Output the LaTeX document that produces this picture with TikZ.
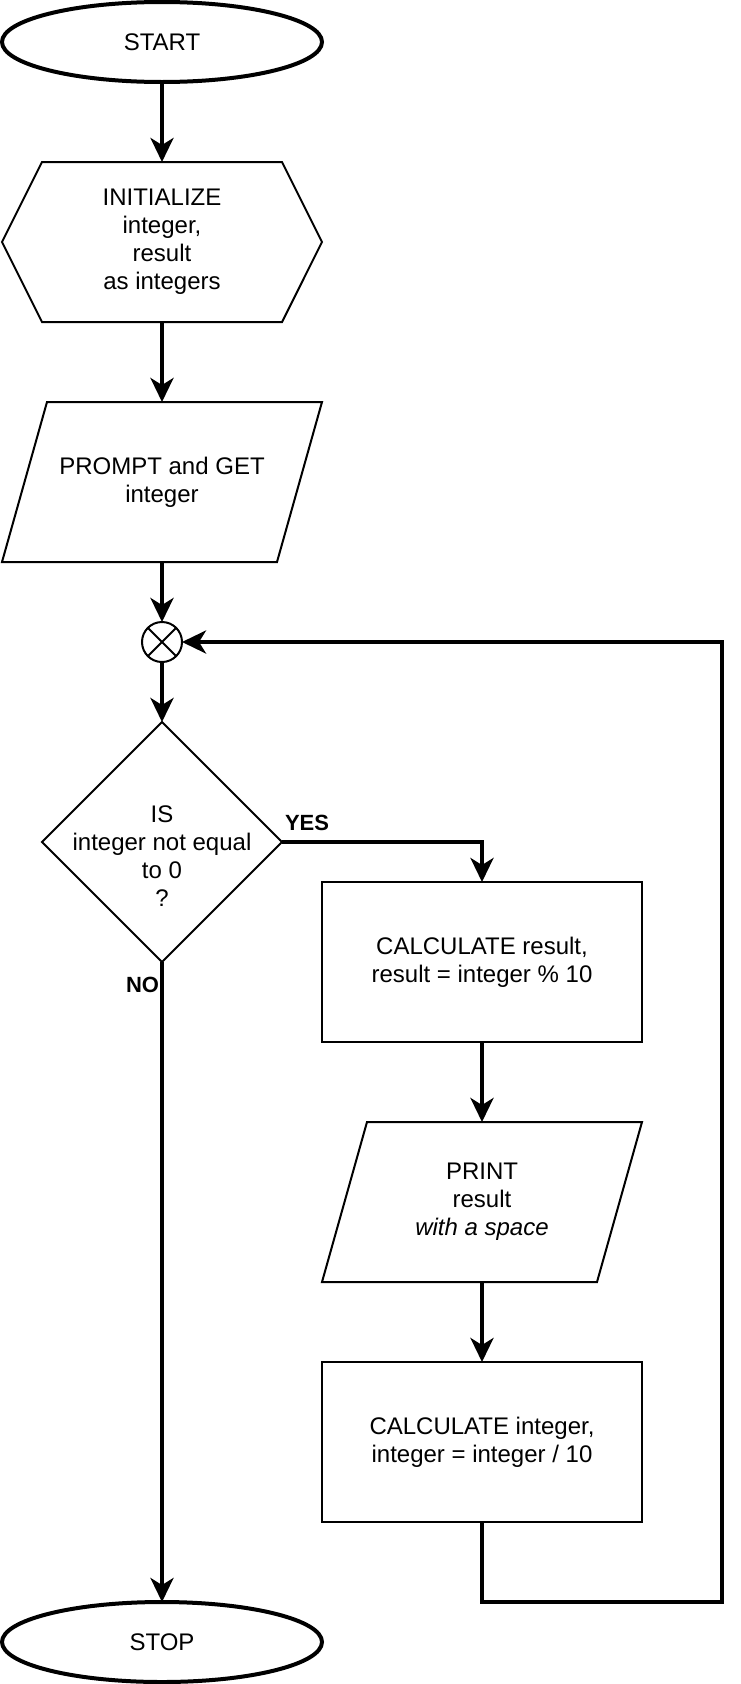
\documentclass[tikz,border=0pt]{standalone}
\usepackage{fontspec}
\setmainfont{Liberation Sans}
\usetikzlibrary{arrows.meta,positioning,shapes.geometric,shapes.symbols}

\begin{document}
\begin{tikzpicture}
      [ x=1pt, y=-1pt,
        font=\fontsize{24}{28}\selectfont,
        every node/.style={outer sep=0pt},
        terminal/.style={ellipse, draw, line width=4pt,
          minimum width=320pt, minimum height=80pt},
        prep/.style={signal, signal to=west and east, signal pointer angle=126.87,
          draw, line width=2pt, minimum width=320pt, minimum height=160pt, align=center},
        io/.style={rectangle, minimum width=320pt, minimum height=160pt, align=center},
        process/.style={rectangle, draw, line width=2pt,
          minimum width=320pt, minimum height=160pt, align=center},
        decision/.style={diamond, draw, line width=2pt, minimum size=240pt, inner sep=0pt},
        junction/.style={circle, draw, line width=2pt, minimum size=40pt, inner sep=0pt},
        lbl/.style={font=\bfseries\fontsize{22}{26}\selectfont, inner sep=0pt},
        flow/.style={line width=4pt, -{Stealth[length=24pt, width=23pt, inset=7pt]}}
      ]
      \useasboundingbox (0,0) rectangle (740,1684);

      \node[terminal]  (start)  at (162,42)                 {START};
      \node[prep]      (init)   [below=80pt of start]       {INITIALIZE\\integer,\\result\\as integers};
      \node[io]        (prompt) [below=80pt of init]        {PROMPT and GET\\integer};
      \node[junction]  (join)   [below=60pt of prompt]      {};
      \node[decision]  (check)  [below=60pt of join]        {};
      \node[align=center] (checktext) at ([yshift=-14pt]check.center)
                                                            {IS\\integer not equal\\to 0\\?};
      \node[process]   (calc1)  at (482,962)                {CALCULATE result,\\result = integer \% 10};
      \node[io]        (print)  [below=80pt of calc1]       {PRINT\\result\\\textit{with a space}};
      \node[process]   (calc2)  [below=80pt of print]       {CALCULATE integer,\\integer = integer / 10};
      \node[terminal]  (stop)   [below=640pt of check]      {STOP};
      \coordinate      (loopcorner) at (722,1602);

      % slanted outline of the input/output boxes
      \foreach \n in {prompt,print}
        \draw[line width=2pt] ([xshift=45pt]\n.north west) -- (\n.north east)
              -- ([xshift=-45pt]\n.south east) -- (\n.south west) -- cycle;

      % cross in the junction
      \draw[line width=2pt] (join.north east) -- (join.south west)
                            (join.north west) -- (join.south east);

      \path[flow] (start)  edge (init)
                  (init)   edge (prompt)
                  (prompt) edge (join)
                  (join)   edge (check)
                  (check)  edge (stop)
                  (calc1)  edge (print)
                  (print)  edge (calc2);

      \draw[flow] (check.east) -| (calc1.north);
      \draw[flow] (calc2.south) |- (loopcorner) |- (join.east);

      \node[lbl, anchor=base west] (yes) at ([xshift=3pt, yshift=12pt]check.east)   {YES};
      \node[lbl, anchor=base east] (no)  at ([xshift=-3pt, yshift=-30pt]check.south) {NO};
    \end{tikzpicture}
\end{document}
